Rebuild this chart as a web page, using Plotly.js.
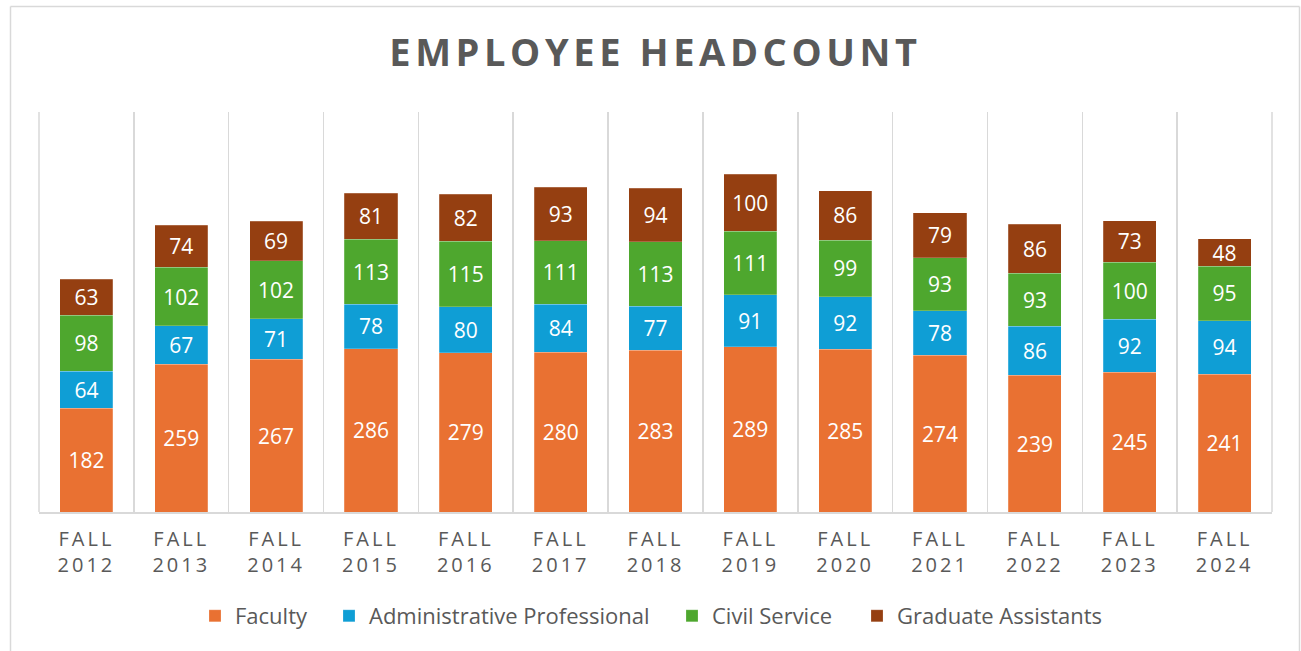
<!DOCTYPE html>
<html>
<head>
<meta charset="utf-8">
<script src="https://cdn.plot.ly/plotly-3.0.1.min.js"></script>
<style>
  html, body { margin: 0; padding: 0; background: #fff; }
  #chart { width: 1301px; height: 651px; }
  .xtick text { letter-spacing: 3px; }
  .gtitle { letter-spacing: 4.6px; }
</style>
</head>
<body>
<div id="chart"></div>
<script>
const categories = ["FALL<br>2012","FALL<br>2013","FALL<br>2014","FALL<br>2015","FALL<br>2016","FALL<br>2017","FALL<br>2018","FALL<br>2019","FALL<br>2020","FALL<br>2021","FALL<br>2022","FALL<br>2023","FALL<br>2024"];
const faculty   = [182,259,267,286,279,280,283,289,285,274,239,245,241];
const adminProf = [64,67,71,78,80,84,77,91,92,78,86,92,94];
const civilServ = [98,102,102,113,115,111,113,111,99,93,93,100,95];
const gradAsst  = [63,74,69,81,82,93,94,100,86,79,86,73,48];

const seriesNames  = ["Faculty","Administrative Professional","Civil Service","Graduate Assistants"];
const seriesValues = [faculty, adminProf, civilServ, gradAsst];
const seriesColors = ["#E97132","#0F9ED5","#4EA72E","#953F11"];

const FONT = "Open Sans, Liberation Sans, sans-serif";

// plot area: x 39..1272, y 112..512
const L = 39, R = 1272, T = 112, B = 512;
const px = v => (v - L) / (R - L);
const py = v => (B - v) / (B - T);

// legend text start positions (px) in the reference
const legendTextX = [235, 369, 712, 897];
const legendIds = ["legend", "legend2", "legend3", "legend4"];

const traces = seriesValues.map((vals, i) => ({
  type: "bar",
  name: seriesNames[i],
  x: categories,
  y: vals,
  text: vals.map(String),
  textposition: "inside",
  insidetextanchor: "middle",
  textangle: 0,
  constraintext: "none",
  textfont: { color: "#ffffff", size: 21, family: FONT },
  marker: { color: seriesColors[i], line: { color: "rgba(255,255,255,0.35)", width: 0.6 } },
  legend: legendIds[i],
  hoverinfo: "none"
}));

const legendBase = {
  orientation: "h",
  xanchor: "left",
  yanchor: "middle",
  y: py(616),
  font: { family: FONT, size: 22, color: "#595959" },
  bgcolor: "rgba(0,0,0,0)",
  borderwidth: 0,
  itemclick: false,
  itemdoubleclick: false
};

const layout = {
  width: 1301,
  height: 651,
  margin: { l: L, r: 1301 - R, t: T, b: 651 - B, pad: 0 },
  paper_bgcolor: "#ffffff",
  plot_bgcolor: "#ffffff",
  barmode: "stack",
  bargap: 0.44,
  showlegend: true,
  hovermode: false,
  title: {
    text: "<b>EMPLOYEE HEADCOUNT</b>",
    font: { family: FONT, size: 38, color: "#595959" },
    x: 655.5 / 1301, xanchor: "center",
    y: 1 - 53 / 651, yanchor: "middle"
  },
  xaxis: {
    type: "category",
    tickson: "boundaries",
    showgrid: true,
    gridcolor: "#d9d9d9",
    gridwidth: 1.5,
    showline: true,
    linecolor: "#d9d9d9",
    linewidth: 2,
    ticks: "",
    tickfont: { family: FONT, size: 20, color: "#595959" },
    ticklabelstandoff: 8,
    fixedrange: true
  },
  yaxis: {
    range: [0, 700],
    showgrid: false,
    showticklabels: false,
    zeroline: false,
    showline: false,
    ticks: "",
    fixedrange: true
  },
  shapes: [
    // outer chart border
    { type: "line", xref: "paper", yref: "paper", x0: px(10.5), x1: px(10.5), y0: py(6.5), y1: py(660), line: { color: "#d9d9d9", width: 1.5 } },
    { type: "line", xref: "paper", yref: "paper", x0: px(10.5), x1: px(1299.5), y0: py(6.5), y1: py(6.5), line: { color: "#d9d9d9", width: 1.5 } },
    { type: "line", xref: "paper", yref: "paper", x0: px(1299.5), x1: px(1299.5), y0: py(6.5), y1: py(660), line: { color: "#d9d9d9", width: 1.5 } },
    // outer category boundaries of plot area
    { type: "line", xref: "paper", yref: "paper", x0: 0, x1: 0, y0: 0, y1: 1, line: { color: "#d9d9d9", width: 1.5 } },
    { type: "line", xref: "paper", yref: "paper", x0: 1, x1: 1, y0: 0, y1: 1, line: { color: "#d9d9d9", width: 1.5 } }
  ]
};

legendIds.forEach((id, i) => {
  layout[id] = Object.assign({}, legendBase, { x: px(legendTextX[i] - 40) });
});

Plotly.newPlot("chart", traces, layout, { displayModeBar: false, staticPlot: true });
</script>
</body>
</html>
